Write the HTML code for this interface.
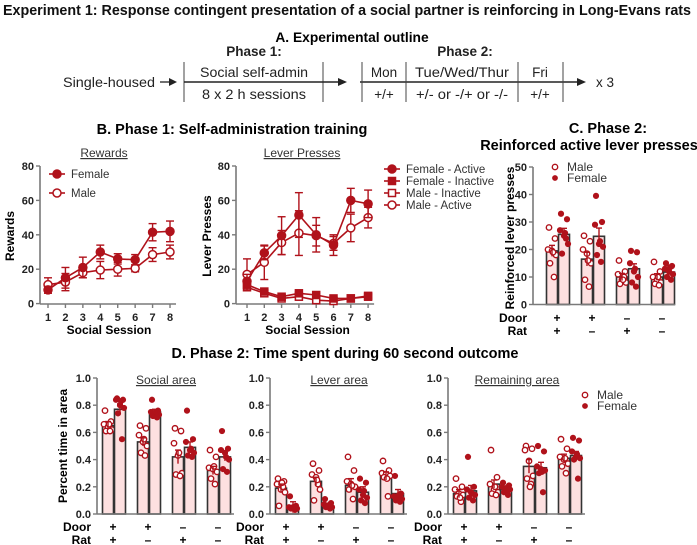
<!DOCTYPE html>
<html><head><meta charset="utf-8">
<style>
body{margin:0;background:#fff;}
svg{display:block;font-family:"Liberation Sans",Arial,sans-serif;}
.b{font-weight:bold;}
</style></head>
<body>
<svg id="fig" width="697" height="545" viewBox="0 0 697 545">
<text x="3" y="15" font-size="14.3" class="b" fill="#111" textLength="688" lengthAdjust="spacingAndGlyphs">Experiment 1: Response contingent presentation of a social partner is reinforcing in Long-Evans rats</text>
<text x="352" y="42" font-size="13.8" class="b" text-anchor="middle">A. Experimental outline</text>
<g font-size="13.5" fill="#222">
<text x="254" y="56" class="b" text-anchor="middle">Phase 1:</text>
<text x="465" y="56" class="b" text-anchor="middle">Phase 2:</text>
<text x="63" y="87" textLength="92" lengthAdjust="spacingAndGlyphs">Single-housed</text>
<line x1="160" y1="82" x2="172" y2="82" stroke="#222" stroke-width="1.3"/><path d="M169,78 L177,82 L169,86Z" fill="#222"/>
<line x1="184" y1="62" x2="184" y2="102" stroke="#444"/>
<line x1="323" y1="62" x2="323" y2="102" stroke="#444"/>
<line x1="184" y1="82" x2="340" y2="82" stroke="#222" stroke-width="1.5"/><path d="M338,78 L347,82 L338,86Z" fill="#222"/>
<text x="254" y="77" text-anchor="middle" textLength="108" lengthAdjust="spacingAndGlyphs">Social self-admin</text>
<text x="254" y="99" text-anchor="middle" textLength="104" lengthAdjust="spacingAndGlyphs">8 x 2 h sessions</text>
<line x1="360" y1="82" x2="580" y2="82" stroke="#222" stroke-width="1.5"/><path d="M577,78 L586,82 L577,86Z" fill="#222"/>
<line x1="362" y1="62" x2="362" y2="102" stroke="#444"/>
<line x1="406" y1="62" x2="406" y2="102" stroke="#444"/>
<line x1="518" y1="62" x2="518" y2="102" stroke="#444"/>
<line x1="563" y1="62" x2="563" y2="102" stroke="#444"/>
<text x="384" y="77" text-anchor="middle">Mon</text>
<text x="462" y="77" text-anchor="middle" textLength="94" lengthAdjust="spacingAndGlyphs">Tue/Wed/Thur</text>
<text x="540" y="77" text-anchor="middle">Fri</text>
<text x="384" y="99" text-anchor="middle">+/+</text>
<text x="462" y="99" text-anchor="middle" textLength="92" lengthAdjust="spacingAndGlyphs">+/- or -/+ or -/-</text>
<text x="540" y="99" text-anchor="middle">+/+</text>
<text x="596" y="87">x 3</text>
</g>
<text x="232" y="134" font-size="14.5" class="b" text-anchor="middle">B. Phase 1: Self-administration training</text>
<text x="608" y="133" font-size="14.5" class="b" text-anchor="middle">C. Phase 2:</text>
<text x="589" y="150" font-size="14.5" class="b" text-anchor="middle">Reinforced active lever presses</text>
<text x="345" y="358" font-size="14.5" class="b" text-anchor="middle">D. Phase 2: Time spent during 60 second outcome</text>
</svg>
<script>
// ---- Panel B data ----
const sessions=[1,2,3,4,5,6,7,8];
const rewardsFemale=[8,15,21,30,26,25.5,41.5,42];
const rewardsFemaleErr=[2,6,6,4,3,3,5,6];
const rewardsMale=[11,12.5,18,19.5,20,20.5,28.5,30];
const rewardsMaleErr=[4,5,3,5,4,2,4,4];
const leverFemaleActive=[13,29.5,39.5,51.5,40,34,60,58];
const leverFemaleActiveErr=[4,4,11,13,10,6,7,8];
const leverMaleActive=[17,24,35.5,41,39.5,35,44,50];
const leverMaleActiveErr=[9,10,7,13,6,4,8,6];
const leverFemaleInactive=[11,7,4,6,5,3,3,4.5];
const leverFemaleInactiveErr=[1.5,1.5,1,1,1,1,1,1];
const leverMaleInactive=[9.5,6,3,4,2,1.5,3,4];
const leverMaleInactiveErr=[1.5,1.5,1,1,1,1,1,1];
const bTicks=[0,20,40,60,80];
// ---- Panel C data ----
const cMaleMeans=[19.5,16.5,10,10];
const cFemaleMeans=[25.5,24.8,13,11.8];
const cMaleErr=[2,2.5,1.3,1.2];
const cFemaleErr=[2.2,3,1.8,1.2];
const cMalePts=[[28,24,20,19.5,18,15,10,19],[25,23,20,18.5,15,9,6.5,16],[16,12,11,9,8,7.5,10,9],[15.5,12,10,9,8,7.5,7,10]];
const cFemalePts=[[33,31,27,25,22,18.5,24,26],[39.5,30,29,22,21,18,15.5,23],[19.5,19,15,12,10,8,6.5,13],[15,14,13,12,11,10,9,13.5]];
const cTicks=[0,10,20,30,40,50];
const doorLabels=['+','+','–','–'];
const ratLabels=['+','–','+','–'];
// ---- Panel D data ----
const dTicks=[0,0.2,0.4,0.6,0.8,1.0];
const socialMaleMeans=[0.65,0.53,0.42,0.32];
const socialFemaleMeans=[0.77,0.75,0.49,0.42];
const socialMalePts=[[.76,.68,.66,.64,.62,.61,.61,.66],[.65,.63,.58,.53,.50,.45,.43,.55],[.63,.61,.52,.43,.30,.29,.28,.45],[.47,.42,.34,.33,.31,.26,.22,.35]];
const socialFemalePts=[[.85,.84,.84,.80,.78,.74,.55,.83],[.84,.76,.75,.74,.73,.72,.71,.75],[.76,.55,.53,.47,.45,.43,.42,.48],[.61,.48,.47,.45,.40,.33,.31,.42]];
const leverMaleMeans=[0.19,0.24,0.21,0.28];
const leverFemaleMeans=[0.05,0.06,0.16,0.15];
const leverMalePts=[[.26,.24,.22,.18,.16,.06,.20,.23],[.37,.32,.29,.27,.18,.10,.22,.25],[.42,.32,.24,.22,.20,.18,.11,.21],[.39,.32,.30,.29,.28,.27,.13,.26]];
const leverFemalePts=[[.13,.06,.05,.05,.04,.04,.03,.05],[.11,.08,.07,.06,.05,.05,.04,.06],[.26,.23,.18,.14,.12,.10,.08,.17],[.28,.15,.13,.12,.11,.10,.09,.14]];
const remMaleMeans=[0.15,0.22,0.35,0.41];
const remFemaleMeans=[0.17,0.18,0.34,0.43];
const remMalePts=[[.26,.20,.18,.15,.14,.13,.09,.12],[.47,.27,.22,.18,.16,.15,.14,.20],[.50,.48,.47,.39,.28,.26,.22,.20],[.55,.48,.42,.40,.37,.35,.30,.41]];
const remFemalePts=[[.42,.20,.18,.16,.14,.12,.10,.15],[.23,.21,.20,.19,.18,.16,.14,.17],[.50,.46,.35,.33,.32,.30,.16,.31],[.56,.54,.46,.42,.41,.40,.26,.44]];
const dErrM=[0.03,0.03,0.05,0.03];
const dErrF=[0.04,0.02,0.04,0.03];

const NS='http://www.w3.org/2000/svg';
const svg=document.getElementById('fig');
const RED='#b0121b';
function el(tag,attrs,parent){const e=document.createElementNS(NS,tag);for(const k in attrs)e.setAttribute(k,attrs[k]);(parent||svg).appendChild(e);return e;}
function txt(x,y,s,attrs,parent){const t=el('text',Object.assign({x:x,y:y},attrs),parent);t.textContent=s;return t;}

function yAxis(g,x,yFn,ticks,fmt){
  const a=el('line',{x1:x,y1:yFn(ticks[0]),x2:x,y2:yFn(ticks[ticks.length-1]),stroke:'#7a7a7a','stroke-width':1.6},g);
  
  
  ticks.forEach(t=>{
    el('line',{x1:x-4,y1:yFn(t),x2:x,y2:yFn(t),stroke:'#7a7a7a','stroke-width':1.4},g);
    const l=txt(x-6,yFn(t)+4,fmt(t),{'font-size':11,'font-weight':'bold','text-anchor':'end',fill:'#222'},g);
    
    
  });
}

// ---- Panel B ----
function lineChart(name,axisX,xFirst,xStep,title,titleX,ylab,ylabX,series){
  const g=el('g',{});
  
  
  const yF=v=>303.6-v*1.72;
  const xF=s=>xFirst+(s-1)*xStep;
  yAxis(g,axisX,yF,bTicks,t=>String(t));
  const xa=el('line',{x1:axisX,y1:304,x2:xF(8)+6,y2:304,stroke:'#7a7a7a','stroke-width':1.6},g);
  
  
  sessions.forEach(s=>{
    el('line',{x1:xF(s),y1:304,x2:xF(s),y2:308,stroke:'#7a7a7a','stroke-width':1.4},g);
    const l=txt(xF(s),321,String(s),{'font-size':11,'font-weight':'bold','text-anchor':'middle',fill:'#222'},g);
    
    
  });
  const xt=txt((xF(1)+xF(8))/2,334,'Social Session',{'font-size':12,'font-weight':'bold','text-anchor':'middle'},g);
  
  
  const tt=txt(titleX,157,title,{'font-size':12,'text-anchor':'middle','text-decoration':'underline',fill:'#333'},g);
  
  
  const yt=txt(0,0,ylab,{'font-size':12,'font-weight':'bold','text-anchor':'middle',transform:`translate(${ylabX},236) rotate(-90)`},g);
  
  
  series.forEach(sr=>{
    const sg=el('g',{},g);
    
    
    const pts=sr.vals.map((v,i)=>xF(sessions[i])+','+yF(v)).join(' ');
    el('polyline',{points:pts,fill:'none',stroke:RED,'stroke-width':1.6},sg);
    sr.vals.forEach((v,i)=>{
      const x=xF(sessions[i]),e=sr.err[i];
      el('line',{x1:x,y1:yF(v-e),x2:x,y2:yF(v+e),stroke:RED,'stroke-width':1.4},sg);
      el('line',{x1:x-4,y1:yF(v+e),x2:x+4,y2:yF(v+e),stroke:RED,'stroke-width':1.4},sg);
      el('line',{x1:x-4,y1:yF(v-e),x2:x+4,y2:yF(v-e),stroke:RED,'stroke-width':1.4},sg);
      let m;
      if(sr.shape==='circle') m=el('circle',{cx:x,cy:yF(v),r:4,fill:sr.fill,stroke:RED,'stroke-width':1.5},sg);
      else m=el('rect',{x:x-3.5,y:yF(v)-3.5,width:7,height:7,fill:sr.fill,stroke:RED,'stroke-width':1.5},sg);
      
      
    });
  });
  return g;
}
lineChart('rewards-chart',40,48,17.43,'Rewards',104,'Rewards',14,[
 {name:'series-male',vals:rewardsMale,err:rewardsMaleErr,shape:'circle',fill:'#fff'},
 {name:'series-female',vals:rewardsFemale,err:rewardsFemaleErr,shape:'circle',fill:RED}]);
lineChart('lever-presses-chart',236,247,17.3,'Lever Presses',302,'Lever Presses',211,[
 {name:'series-male-inactive',vals:leverMaleInactive,err:leverMaleInactiveErr,shape:'square',fill:'#fff'},
 {name:'series-female-inactive',vals:leverFemaleInactive,err:leverFemaleInactiveErr,shape:'square',fill:RED},
 {name:'series-male-active',vals:leverMaleActive,err:leverMaleActiveErr,shape:'circle',fill:'#fff'},
 {name:'series-female-active',vals:leverFemaleActive,err:leverFemaleActiveErr,shape:'circle',fill:RED}]);

function legendEntry(x,y,label,shape,fill){
  const g=el('g',{});
  
  
  el('line',{x1:x-8,y1:y,x2:x+8,y2:y,stroke:RED,'stroke-width':1.6},g);
  if(shape==='circle') el('circle',{cx:x,cy:y,r:4,fill:fill,stroke:RED,'stroke-width':1.5},g);
  else el('rect',{x:x-3.5,y:y-3.5,width:7,height:7,fill:fill,stroke:RED,'stroke-width':1.5},g);
  txt(x+14,y+4,label,{'font-size':11.5,fill:'#333'},g);
}
legendEntry(57,174,'Female','circle',RED);
legendEntry(57,193,'Male','circle','#fff');
legendEntry(392,169,'Female - Active','circle',RED);
legendEntry(392,181,'Female - Inactive','square',RED);
legendEntry(392,193,'Male - Inactive','square','#fff');
legendEntry(392,205,'Male - Active','circle','#fff');

// ---- bar charts ----
const jitter=[-3,3,-4,0,4,-2,2,1];
function barChart(name,axisX,first,step,yF,ticks,fmt,mM,mF,eM,eF,pM,pF,yBase,axisEnd,labelY){
  const g=el('g',{});
  
  
  for(let i=0;i<mM.length;i++){
    [[mM[i],eM[i],pM[i],first+i*step,'#fff','male'],[mF[i],eF[i],pF[i],first+i*step+12,RED,'female']].forEach(([m,e,pts,cx,fill,sx])=>{
      const b=el('rect',{x:cx-5.5,y:yF(m),width:11,height:yBase-yF(m),fill:'#fde0e0',stroke:'#333','stroke-width':1.6},g);
      
      
      pts.forEach((p,j)=>{
        const c=el('circle',{cx:cx+jitter[j],cy:yF(p),r:sx==='male'?2.7:2.4,fill:fill,stroke:RED,'stroke-width':1.4},g);
        
        
      });
      el('line',{x1:cx,y1:yF(m-e),x2:cx,y2:yF(m+e),stroke:RED,'stroke-width':1.4},g);
      el('line',{x1:cx-3,y1:yF(m+e),x2:cx+3,y2:yF(m+e),stroke:RED,'stroke-width':1.4},g);
    });
    const gx=first+i*step+5;
    const dl=txt(gx,labelY,doorLabels[i],{'font-size':12,'font-weight':'bold','text-anchor':'middle'},g);
    
    
    const rl=txt(gx,labelY+13,ratLabels[i],{'font-size':12,'font-weight':'bold','text-anchor':'middle'},g);
    
    
  }
  yAxis(g,axisX,yF,ticks,fmt);
  const xa=el('line',{x1:axisX,y1:yBase,x2:axisEnd,y2:yBase,stroke:'#7a7a7a','stroke-width':1.6},g);
  
  
  const d=txt(axisX-6,labelY,'Door',{'font-size':12,'font-weight':'bold','text-anchor':'end'},g);
  
  
  const r=txt(axisX-6,labelY+13,'Rat',{'font-size':12,'font-weight':'bold','text-anchor':'end'},g);
  
  
  return g;
}
// Panel C
const yC=v=>304.5-v*2.75;
barChart('reinforced-presses-chart',533,552,35,yC,cTicks,t=>String(t),cMaleMeans,cFemaleMeans,cMaleErr,cFemaleErr,cMalePts,cFemalePts,304.5,675,322);
const ycl=txt(0,0,'Reinforced lever presses',{'font-size':12,'font-weight':'bold','text-anchor':'middle',transform:'translate(514,238) rotate(-90)'});


function dotLegend(x,y,label,fill){
  const g=el('g',{});
  
  
  el('circle',{cx:x,cy:y,r:fill==='#fff'?2.7:2.2,fill:fill,stroke:RED,'stroke-width':1.4},g);
  txt(x+12,y+4,label,{'font-size':12,fill:'#333'},g);
}
dotLegend(555,167,'Male','#fff');
dotLegend(555,178,'Female',RED);

// Panel D
const yD=v=>514-v*136;
const fmtD=t=>t.toFixed(1);
const dPanels=[
 ['social-area-chart',97,'Social area',socialMaleMeans,socialFemaleMeans,socialMalePts,socialFemalePts],
 ['lever-area-chart',270,'Lever area',leverMaleMeans,leverFemaleMeans,leverMalePts,leverFemalePts],
 ['remaining-area-chart',448,'Remaining area',remMaleMeans,remFemaleMeans,remMalePts,remFemalePts]];
dPanels.forEach(p=>{
  const g=barChart(p[0],p[1],p[1]+11,35,yD,dTicks,fmtD,p[3],p[4],dErrM,dErrF,p[5],p[6],514,p[1]+137,531);
  const t=txt(p[1]+69,384,p[2],{'font-size':12,'text-anchor':'middle','text-decoration':'underline',fill:'#333'},g);
  
  
});
const ydl=txt(0,0,'Percent time in area',{'font-size':12,'font-weight':'bold','text-anchor':'middle',transform:'translate(67,446) rotate(-90)'});


dotLegend(585,395,'Male','#fff');
dotLegend(585,406,'Female',RED);
</script>
</body></html>
